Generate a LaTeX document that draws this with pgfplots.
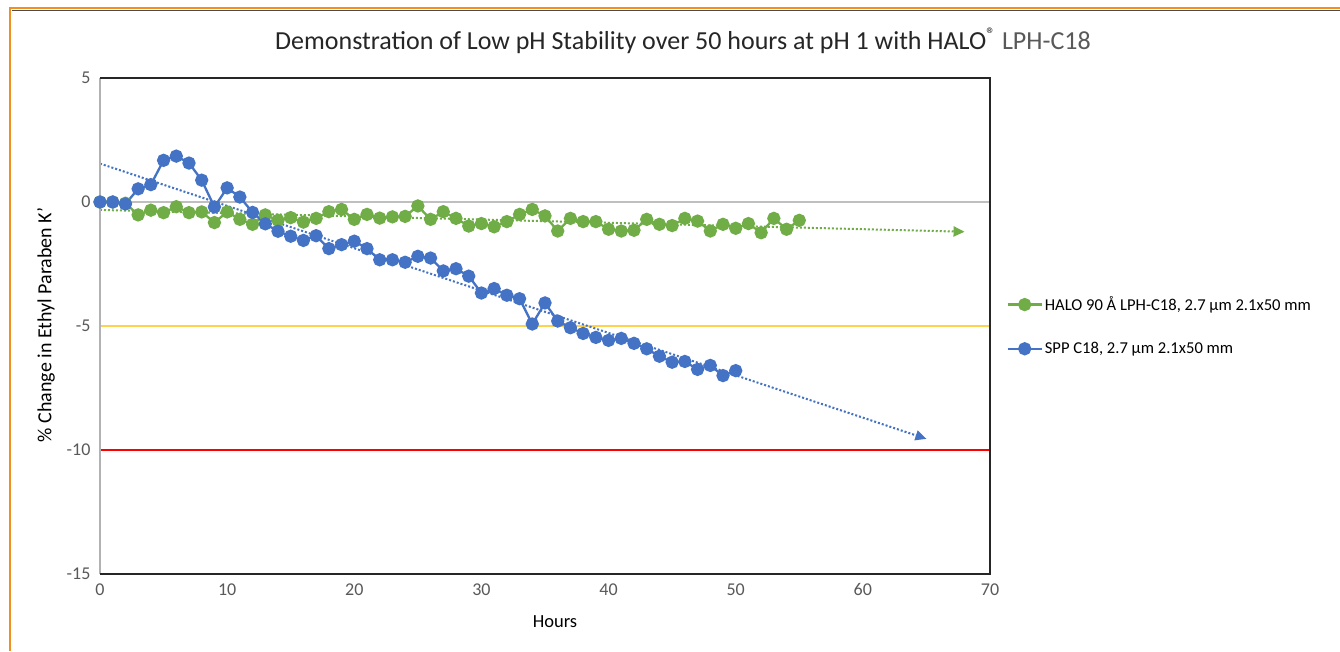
\documentclass[border=0pt]{standalone}
\usepackage{pgfplots}
\pgfplotsset{compat=1.18}
\usepackage{fontspec}
\setmainfont{Carlito}
\usetikzlibrary{arrows.meta}
\definecolor{cblue}{HTML}{4472C4}
\definecolor{cgreen}{HTML}{70AD47}
\definecolor{cyellow}{HTML}{FFD24D}
\definecolor{cred}{HTML}{FF0000}
\definecolor{ctick}{HTML}{595959}
\definecolor{cgridz}{HTML}{BFBFBF}
\definecolor{corange}{HTML}{F0901E}
\definecolor{ctitle}{HTML}{262626}

\pgfplotstableread{
h v
0 0
1 0
2 -0.05
3 -0.52
4 -0.33
5 -0.43
6 -0.19
7 -0.43
8 -0.4
9 -0.83
10 -0.4
11 -0.7
12 -0.9
13 -0.52
14 -0.74
15 -0.63
16 -0.81
17 -0.66
18 -0.39
19 -0.3
20 -0.7
21 -0.5
22 -0.65
23 -0.6
24 -0.58
25 -0.16
26 -0.7
27 -0.39
28 -0.66
29 -0.97
30 -0.87
31 -1.0
32 -0.79
33 -0.5
34 -0.3
35 -0.56
36 -1.17
37 -0.66
38 -0.79
39 -0.79
40 -1.1
41 -1.17
42 -1.14
43 -0.7
44 -0.9
45 -0.95
46 -0.66
47 -0.77
48 -1.17
49 -0.9
50 -1.06
51 -0.87
52 -1.24
53 -0.66
54 -1.1
55 -0.74
}\greendata

\pgfplotstableread{
h v
0 0
1 0
2 -0.08
3 0.53
4 0.7
5 1.68
6 1.85
7 1.57
8 0.88
9 -0.2
10 0.57
11 0.2
12 -0.42
13 -0.88
14 -1.18
15 -1.38
16 -1.55
17 -1.36
18 -1.88
19 -1.72
20 -1.58
21 -1.88
22 -2.33
23 -2.33
24 -2.43
25 -2.19
26 -2.26
27 -2.78
28 -2.69
29 -2.99
30 -3.67
31 -3.49
32 -3.76
33 -3.9
34 -4.92
35 -4.07
36 -4.8
37 -5.07
38 -5.3
39 -5.46
40 -5.58
41 -5.5
42 -5.7
43 -5.92
44 -6.22
45 -6.46
46 -6.43
47 -6.75
48 -6.59
49 -7.0
50 -6.8
}\bluedata

\begin{document}
\begin{tikzpicture}[x=1pt,y=1pt]
\path[use as bounding box] (0pt,0pt) rectangle (1340pt,651pt);
\fill[white] (0pt,0pt) rectangle (1340pt,651pt);
\draw[corange, line width=2.5pt] (10pt,0pt) -- (10pt,643pt) -- (1340pt,643pt);
\draw[black!70, line width=0.8pt] (11.5pt,641pt) -- (1340pt,641pt);
\node[font=\fontsize{26}{30}\selectfont, text=ctitle] at (683pt,610pt) {Demonstration of Low pH Stability over 50 hours at pH 1 with HALO\textsuperscript{®} \textcolor{ctick}{LPH-C18}};
\node[font=\fontsize{20}{24}\selectfont, text=black, rotate=90] at (46pt,326pt) {\% Change in Ethyl Paraben K’};
\node[font=\fontsize{18.5}{22}\selectfont, text=black] at (555pt,29pt) {Hours};
\begin{axis}[
  at={(100pt,77pt)}, anchor=south west,
  scale only axis, width=890pt, height=496pt,
  xmin=0, xmax=70, ymin=-15, ymax=5,
  xtick={0,10,...,70}, ytick={-15,-10,-5,0,5},
  major tick length=0pt,
  axis line style={draw=none},
  tick label style={font=\fontsize{18}{21}\selectfont, text=ctick},
  /pgf/number format/assume math mode=true,
  xticklabel style={yshift=-6pt},
  yticklabel style={xshift=-6pt},
  clip=false,
  legend cell align=left,
  legend style={at={(1.015,0.5)}, anchor=west, draw=none, fill=none,
    font=\fontsize{16.6}{20}\selectfont, row sep=26pt},
  legend image code/.code={\draw[mark repeat=2,mark phase=2,#1] plot coordinates {(0pt,0pt)(17pt,0pt)(34pt,0pt)};},
]
\addplot[cgridz, line width=1.2pt, forget plot] coordinates {(0,0) (70,0)};
\addplot[cyellow, line width=2.6pt, forget plot] coordinates {(0,-5) (70,-5)};
\addplot[cred, line width=2.6pt, forget plot] coordinates {(0,-10) (70,-10)};
\addplot[cgreen, line width=2pt, dotted, forget plot, -{Triangle[length=11pt,width=10pt]}] coordinates {(0,-0.32) (68,-1.2)};
\addplot[cblue, line width=2pt, dotted, forget plot, -{Triangle[length=11pt,width=10pt]}] coordinates {(0,1.55) (65,-9.55)};
\addplot[cgreen, line width=2.3pt, mark=*, mark size=5.5pt, mark options={solid, fill=cgreen, draw=cgreen}] table[x=h,y=v] {\greendata};
\addlegendentry{HALO 90 Å LPH-C18, 2.7 µm 2.1x50 mm}
\addplot[cblue, line width=2.3pt, mark=*, mark size=5.5pt, mark options={solid, fill=cblue, draw=cblue}] table[x=h,y=v] {\bluedata};
\addlegendentry{SPP C18, 2.7 µm 2.1x50 mm}
\draw[black!30, line width=1.2pt] (rel axis cs:0,0) -- (rel axis cs:0,1);
\draw[black!85, line width=1.5pt] (rel axis cs:0,1) -- (rel axis cs:1,1) -- (rel axis cs:1,0) -- (rel axis cs:0,0);
\end{axis}
\end{tikzpicture}
\end{document}
